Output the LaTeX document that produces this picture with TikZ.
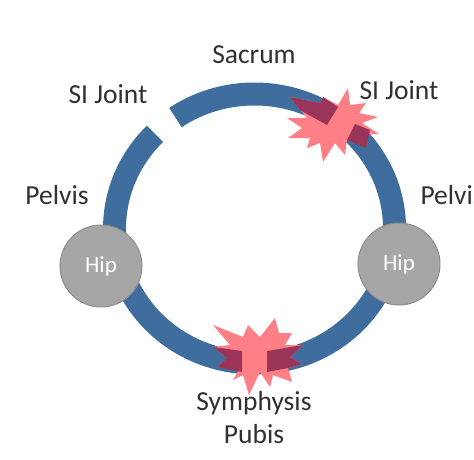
\documentclass[tikz,border=0pt]{standalone}
\usepackage{fontspec}
\setmainfont{Carlito}
\usepackage{xcolor}
\usetikzlibrary{positioning}
\definecolor{ringblue}{HTML}{3F6E9E}
\definecolor{burstpink}{HTML}{FF7F86}
\definecolor{burstdark}{HTML}{9A3559}
\definecolor{hipgray}{HTML}{A6A6A6}
\definecolor{labelgray}{HTML}{303030}
\tikzset{
    label text/.style={text=labelgray, font=\fontsize{27.5}{33}\selectfont, align=center},
    hip/.style={circle, draw=hipgray!85!black, line width=1pt, fill=hipgray, minimum size=82pt, inner sep=0pt, text=white, font=\fontsize{23}{27}\selectfont}
}

\begin{document}
\begin{tikzpicture}[x=1pt, y=-1pt]
    \useasboundingbox (0,0) rectangle (474,459);
    % ring
    \draw[ringblue, line width=23pt] (254.5,228.5) ++(-124.4:140 and 134.5) arc[start angle=-124.4, end angle=224.7, x radius=140, y radius=134.5];
    % burst at the right joint
    \fill[burstpink] (348,88) -- (350,105) -- (366,103) -- (359,113) -- (378,117) -- (362,123) -- (379,134) -- (357,134) -- (347,140) -- (345,155) -- (335,143) -- (323,162) -- (320,143) -- (307,148) -- (310,138) -- (288,138) -- (302,128) -- (287,118) -- (307,118) -- (290,97) -- (320,103) -- (323,97) -- (338,105) -- cycle;
    \fill[burstdark] (290,97) -- (320,103) -- (323,97) -- (338,107) -- (327,125) -- (300,110) -- cycle;
    \fill[burstdark] (355,124) -- (370,130) -- (366,148) -- (347,140) -- cycle;
    % burst at the symphysis
    \fill[burstpink] (275,318) -- (279,333) -- (292,333) -- (285,345) -- (303,345) -- (290,357) -- (302,364) -- (288,368) -- (292,382) -- (273,375) -- (270,387) -- (260,372) -- (249,395) -- (243,375) -- (233,380) -- (240,368) -- (217,367) -- (227,358) -- (213,347) -- (230,345) -- (213,325) -- (243,337) -- (248,325) -- (260,337) -- cycle;
    \fill[burstdark] (213,347) -- (242,351) -- (242,372) -- (217,367) -- (227,358) -- cycle;
    \fill[burstdark] (267,351) -- (303,345) -- (290,357) -- (302,364) -- (288,368) -- (267,372) -- cycle;
    % hips
    \node[hip] (hipleft) at (101,266) {Hip};
    \node[hip] (hipright) at (399,264) {Hip};
    % labels
    \node[label text] (sacrum) at (254,55) {Sacrum};
    \node[label text] (sileft) at (108,94) {SI Joint};
    \node[label text] (siright) at (399,90) {SI Joint};
    \node[label text] (pelvisleft) at (57,195) {Pelvis};
    \node[label text, anchor=west] (pelvisright) at (417,195) {Pelvis};
    \node[label text] (symphysis) at (254,418) {Symphysis\\Pubis};
\end{tikzpicture}
\end{document}
